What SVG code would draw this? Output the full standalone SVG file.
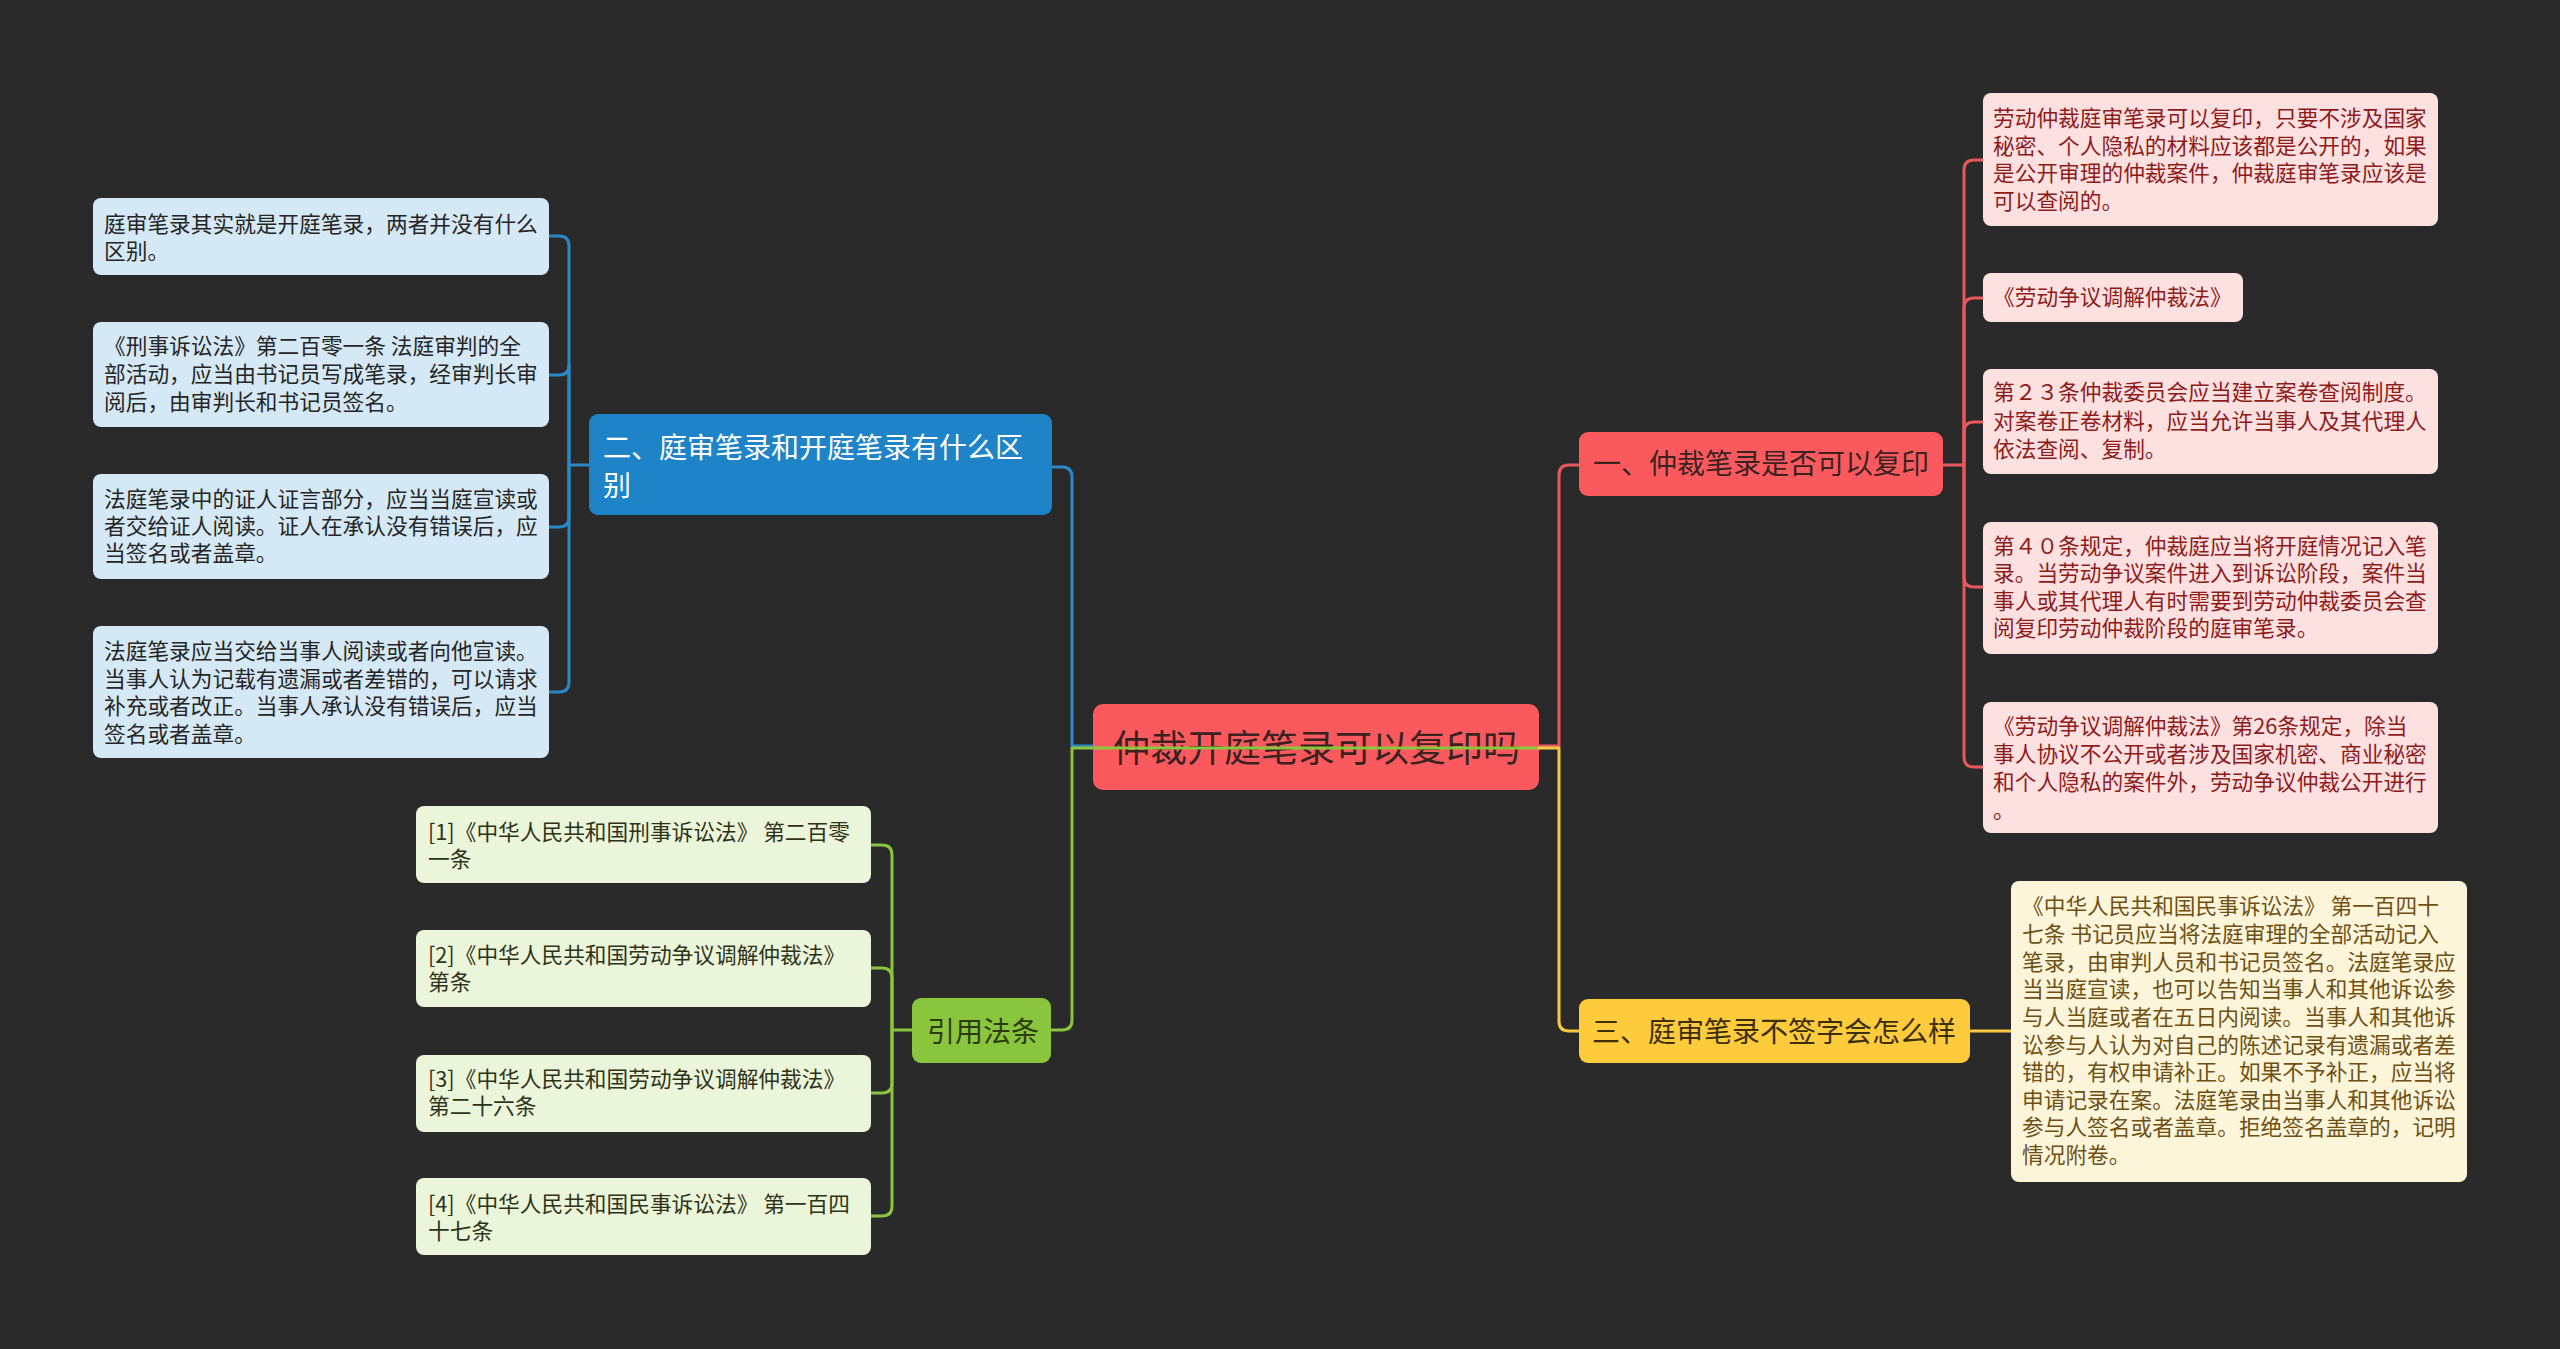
<svg xmlns="http://www.w3.org/2000/svg" width="2560" height="1349" viewBox="0 0 2560 1349">
<defs>
<style>
text{font-family:"Noto Sans CJK SC","Microsoft YaHei","Noto Sans",sans-serif;dominant-baseline:central}
.leaf{font-size:21.7px;transform:translateY(-3px)}
.br{font-size:28px;transform:translateY(-1px)}
.c{fill:none;stroke-width:3;stroke-linecap:round;stroke-linejoin:round}
.cb{stroke:#2a87c8}.cr{stroke:#e8585c}.cg{stroke:#8ac53e}.cy{stroke:#f7c843}
.lb{fill:#d4e8f6}.lbt{fill:#252525}
.lr{fill:#fde1e1}.lrt{fill:#8e1b1b}
.lg{fill:#ebf5da}.lgt{fill:#2e3318}
.ly{fill:#fdf5da}.lyt{fill:#6e5014}
</style>
</defs>
<rect x="0" y="0" width="2560" height="1349" fill="#2a2a2a"/>

<g id="connectors-under">
<path class="c cb" d="M1093 746 H1072 V477 Q1072 467 1062 467 H1052"/>
<path class="c cr" d="M1539 746 H1559 V475 Q1559 465 1569 465 H1579"/>
<path class="c cb" d="M590 465 H569"/>
<path class="c cb" d="M569 465 V246 Q569 236 559 236 H549"/>
<path class="c cb" d="M569 465 V365 Q569 375 559 375 H549"/>
<path class="c cb" d="M569 465 V517 Q569 527 559 527 H549"/>
<path class="c cb" d="M569 465 V682 Q569 692 559 692 H549"/>
<path class="c cr" d="M1943 465 H1964"/>
<path class="c cr" d="M1964 465 V170 Q1964 160 1974 160 H1983"/>
<path class="c cr" d="M1964 465 V308 Q1964 298 1974 298 H1983"/>
<path class="c cr" d="M1964 465 V432 Q1964 422 1974 422 H1983"/>
<path class="c cr" d="M1964 465 V577 Q1964 587 1974 587 H1983"/>
<path class="c cr" d="M1964 465 V757 Q1964 767 1974 767 H1983"/>
<path class="c cg" d="M912 1030 H892"/>
<path class="c cg" d="M892 1030 V855 Q892 845 882 845 H871"/>
<path class="c cg" d="M892 1030 V978 Q892 968 882 968 H871"/>
<path class="c cg" d="M892 1030 V1083 Q892 1093 882 1093 H871"/>
<path class="c cg" d="M892 1030 V1206 Q892 1216 882 1216 H871"/>
<path class="c cy" d="M1970 1031 H2011"/>
</g>

<g id="root">
<rect x="1093" y="704" width="446" height="86" rx="10" fill="#fa5a5e"/>
<text x="1113" y="746" font-size="37" fill="#3b2222">仲裁开庭笔录可以复印吗</text>
</g>

<g id="connectors-over">
<path class="c cg" d="M1539 748 H1072 V1020 Q1072 1030 1062 1030 H1051"/>
<path class="c cy" d="M1539 748 H1559 V1021 Q1559 1031 1569 1031 H1579"/>
</g>

<g id="branch-2">
<rect x="589" y="414" width="463" height="101" rx="9" fill="#1f84c7"/>
<text class="br" x="603" y="447" fill="#ffffff">二、庭审笔录和开庭笔录有什么区</text>
<text class="br" x="603" y="485" fill="#ffffff">别</text>
</g>
<g id="leaf-2-1">
<rect class="lb" x="93" y="198" width="456" height="77" rx="8"/>
<text class="leaf lbt" x="104" y="225">庭审笔录其实就是开庭笔录，两者并没有什么</text>
<text class="leaf lbt" x="104" y="252">区别。</text>
</g>
<g id="leaf-2-2">
<rect class="lb" x="93" y="322" width="456" height="105" rx="8"/>
<text class="leaf lbt" x="104" y="347">《刑事诉讼法》第二百零一条 法庭审判的全</text>
<text class="leaf lbt" x="104" y="375">部活动，应当由书记员写成笔录，经审判长审</text>
<text class="leaf lbt" x="104" y="403">阅后，由审判长和书记员签名。</text>
</g>
<g id="leaf-2-3">
<rect class="lb" x="93" y="474" width="456" height="105" rx="8"/>
<text class="leaf lbt" x="104" y="500">法庭笔录中的证人证言部分，应当当庭宣读或</text>
<text class="leaf lbt" x="104" y="527">者交给证人阅读。证人在承认没有错误后，应</text>
<text class="leaf lbt" x="104" y="554">当签名或者盖章。</text>
</g>
<g id="leaf-2-4">
<rect class="lb" x="93" y="626" width="456" height="132" rx="8"/>
<text class="leaf lbt" x="104" y="652">法庭笔录应当交给当事人阅读或者向他宣读。</text>
<text class="leaf lbt" x="104" y="680">当事人认为记载有遗漏或者差错的，可以请求</text>
<text class="leaf lbt" x="104" y="707">补充或者改正。当事人承认没有错误后，应当</text>
<text class="leaf lbt" x="104" y="735">签名或者盖章。</text>
</g>

<g id="branch-1">
<rect x="1579" y="432" width="364" height="64" rx="9" fill="#fa5a5e"/>
<text class="br" x="1593" y="463" fill="#3b2222">一、仲裁笔录是否可以复印</text>
</g>
<g id="leaf-1-1">
<rect class="lr" x="1983" y="93" width="455" height="133" rx="8"/>
<text class="leaf lrt" x="1993" y="119">劳动仲裁庭审笔录可以复印，只要不涉及国家</text>
<text class="leaf lrt" x="1993" y="147">秘密、个人隐私的材料应该都是公开的，如果</text>
<text class="leaf lrt" x="1993" y="174">是公开审理的仲裁案件，仲裁庭审笔录应该是</text>
<text class="leaf lrt" x="1993" y="202">可以查阅的。</text>
</g>
<g id="leaf-1-2">
<rect class="lr" x="1983" y="273" width="260" height="49" rx="8"/>
<text class="leaf lrt" x="1993" y="298">《劳动争议调解仲裁法》</text>
</g>
<g id="leaf-1-3">
<rect class="lr" x="1983" y="369" width="455" height="105" rx="8"/>
<text class="leaf lrt" x="1993" y="393">第２３条仲裁委员会应当建立案卷查阅制度。</text>
<text class="leaf lrt" x="1993" y="422">对案卷正卷材料，应当允许当事人及其代理人</text>
<text class="leaf lrt" x="1993" y="450">依法查阅、复制。</text>
</g>
<g id="leaf-1-4">
<rect class="lr" x="1983" y="522" width="455" height="132" rx="8"/>
<text class="leaf lrt" x="1993" y="547">第４０条规定，仲裁庭应当将开庭情况记入笔</text>
<text class="leaf lrt" x="1993" y="574">录。当劳动争议案件进入到诉讼阶段，案件当</text>
<text class="leaf lrt" x="1993" y="602">事人或其代理人有时需要到劳动仲裁委员会查</text>
<text class="leaf lrt" x="1993" y="629">阅复印劳动仲裁阶段的庭审笔录。</text>
</g>
<g id="leaf-1-5">
<rect class="lr" x="1983" y="702" width="455" height="131" rx="8"/>
<text class="leaf lrt" x="1993" y="727">《劳动争议调解仲裁法》第26条规定，除当</text>
<text class="leaf lrt" x="1993" y="755">事人协议不公开或者涉及国家机密、商业秘密</text>
<text class="leaf lrt" x="1993" y="783">和个人隐私的案件外，劳动争议仲裁公开进行</text>
<text class="leaf lrt" x="1993" y="811">。</text>
</g>

<g id="branch-3">
<rect x="1579" y="999" width="391" height="64" rx="9" fill="#fdcb3c"/>
<text class="br" x="1592" y="1031" fill="#3d2f08">三、庭审笔录不签字会怎么样</text>
</g>
<g id="leaf-3-1">
<rect class="ly" x="2011" y="881" width="456" height="301" rx="8"/>
<text class="leaf lyt" x="2022" y="907">《中华人民共和国民事诉讼法》 第一百四十</text>
<text class="leaf lyt" x="2022" y="935">七条 书记员应当将法庭审理的全部活动记入</text>
<text class="leaf lyt" x="2022" y="963">笔录，由审判人员和书记员签名。法庭笔录应</text>
<text class="leaf lyt" x="2022" y="990">当当庭宣读，也可以告知当事人和其他诉讼参</text>
<text class="leaf lyt" x="2022" y="1018">与人当庭或者在五日内阅读。当事人和其他诉</text>
<text class="leaf lyt" x="2022" y="1046">讼参与人认为对自己的陈述记录有遗漏或者差</text>
<text class="leaf lyt" x="2022" y="1073">错的，有权申请补正。如果不予补正，应当将</text>
<text class="leaf lyt" x="2022" y="1101">申请记录在案。法庭笔录由当事人和其他诉讼</text>
<text class="leaf lyt" x="2022" y="1128">参与人签名或者盖章。拒绝签名盖章的，记明</text>
<text class="leaf lyt" x="2022" y="1156">情况附卷。</text>
</g>

<g id="branch-4">
<rect x="912" y="998" width="139" height="65" rx="9" fill="#8ac53e"/>
<text class="br" x="927" y="1031" fill="#2c3a10">引用法条</text>
</g>
<g id="leaf-4-1">
<rect class="lg" x="416" y="806" width="455" height="77" rx="8"/>
<text class="leaf lgt" x="428" y="833">[1]《中华人民共和国刑事诉讼法》 第二百零</text>
<text class="leaf lgt" x="428" y="860">一条</text>
</g>
<g id="leaf-4-2">
<rect class="lg" x="416" y="930" width="455" height="77" rx="8"/>
<text class="leaf lgt" x="428" y="956">[2]《中华人民共和国劳动争议调解仲裁法》</text>
<text class="leaf lgt" x="428" y="983">第条</text>
</g>
<g id="leaf-4-3">
<rect class="lg" x="416" y="1055" width="455" height="77" rx="8"/>
<text class="leaf lgt" x="428" y="1080">[3]《中华人民共和国劳动争议调解仲裁法》</text>
<text class="leaf lgt" x="428" y="1107">第二十六条</text>
</g>
<g id="leaf-4-4">
<rect class="lg" x="416" y="1178" width="455" height="77" rx="8"/>
<text class="leaf lgt" x="428" y="1205">[4]《中华人民共和国民事诉讼法》 第一百四</text>
<text class="leaf lgt" x="428" y="1232">十七条</text>
</g>
</svg>
